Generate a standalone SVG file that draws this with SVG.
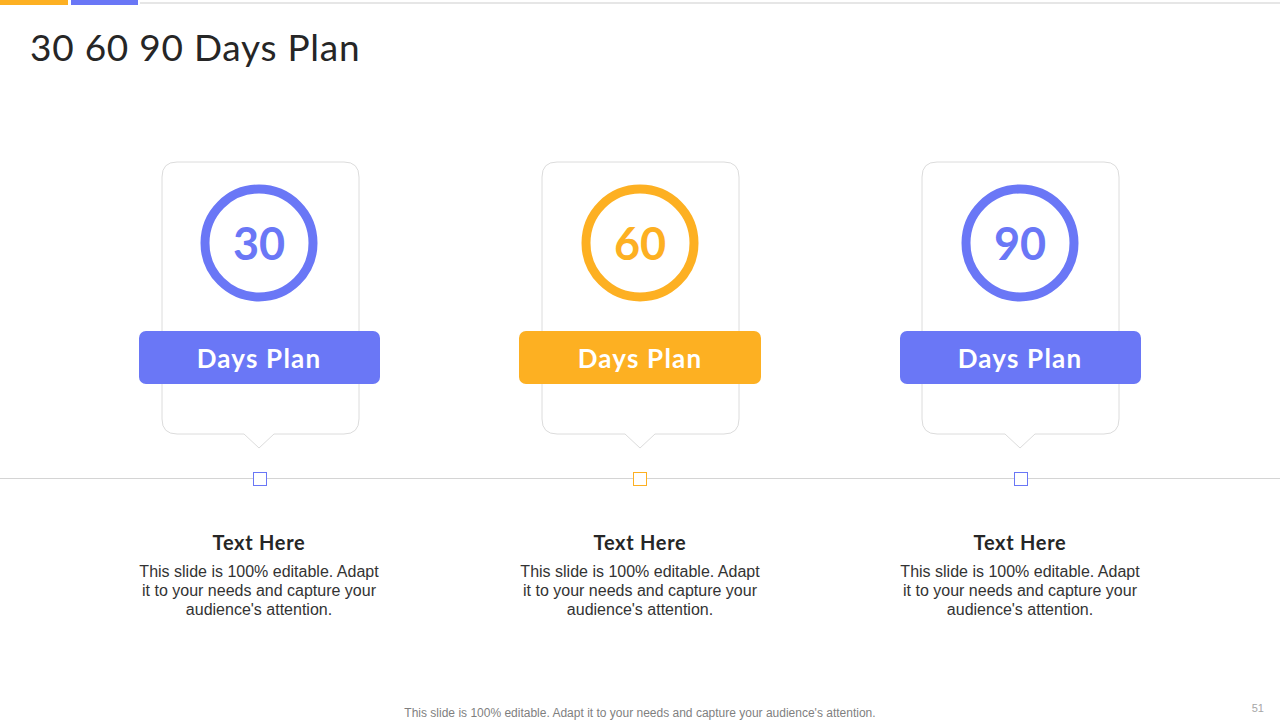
<svg xmlns="http://www.w3.org/2000/svg" width="1280" height="720" viewBox="0 0 1280 720">
<style>
.card{fill:#fff;stroke:#dcdcdc;stroke-width:1}
.ring{fill:none;stroke-width:9}
.num{font-family:"Lato","Liberation Sans",sans-serif;font-weight:bold;font-size:45px;text-anchor:middle}
.band-t{font-family:"Lato","Liberation Sans",sans-serif;font-weight:bold;font-size:26px;letter-spacing:1.2px;fill:#fff;text-anchor:middle}
.h{font-family:"Lato","Liberation Sans",sans-serif;font-weight:bold;font-size:20px;letter-spacing:0.7px;fill:#262626;text-anchor:middle}
.b{font-family:"Liberation Sans",Arial,sans-serif;font-size:16px;fill:#333;text-anchor:middle}
</style>
<rect x="0" y="0" width="1280" height="720" fill="#fff"/>
<rect x="0" y="0" width="68" height="5" fill="#FDB022"/>
<rect x="71" y="0" width="67" height="5" fill="#6A77F6"/>
<line x1="140" y1="3" x2="1280" y2="3" stroke="#e6e6e6" stroke-width="2"/>
<text x="30" y="61" font-family="Lato, 'Liberation Sans', sans-serif" font-size="37" letter-spacing="0.75" fill="#262626">30 60 90 Days Plan</text>
<g id="connectors">
<line x1="0" y1="478.5" x2="1280" y2="478.5" stroke="#d4d4d4" stroke-width="1"/>
</g>
<g id="node30">
<path class="card" d="M177,162 H344 Q359,162 359,177 V419 Q359,434 344,434 H274 L259,448 L244,434 H177 Q162,434 162,419 V177 Q162,162 177,162 Z"/>
<circle cx="259" cy="243" r="54" class="ring" stroke="#6A77F6"/>
<text x="259" y="260" class="num" fill="#6A77F6">30</text>
<rect x="139" y="331" width="241" height="53" rx="7" fill="#6A77F6"/>
<text x="259" y="368" class="band-t">Days Plan</text>
<rect x="253.5" y="472.5" width="13" height="13" fill="#fff" stroke="#6A77F6" stroke-width="1"/>
<text x="259" y="550" class="h">Text Here</text>
<text x="259" y="577" class="b">This slide is 100% editable. Adapt</text>
<text x="259" y="596" class="b">it to your  needs and capture your</text>
<text x="259" y="615" class="b">audience's attention.</text>
</g>
<g id="node60">
<path class="card" d="M557,162 H724 Q739,162 739,177 V419 Q739,434 724,434 H655 L640,448 L625,434 H557 Q542,434 542,419 V177 Q542,162 557,162 Z"/>
<circle cx="640" cy="243" r="54" class="ring" stroke="#FDB022"/>
<text x="640" y="260" class="num" fill="#FDB022">60</text>
<rect x="519" y="331" width="242" height="53" rx="7" fill="#FDB022"/>
<text x="640" y="368" class="band-t">Days Plan</text>
<rect x="633.5" y="472.5" width="13" height="13" fill="#fff" stroke="#FDB022" stroke-width="1"/>
<text x="640" y="550" class="h">Text Here</text>
<text x="640" y="577" class="b">This slide is 100% editable. Adapt</text>
<text x="640" y="596" class="b">it to your  needs and capture your</text>
<text x="640" y="615" class="b">audience's attention.</text>
</g>
<g id="node90">
<path class="card" d="M937,162 H1104 Q1119,162 1119,177 V419 Q1119,434 1104,434 H1035 L1020,448 L1005,434 H937 Q922,434 922,419 V177 Q922,162 937,162 Z"/>
<circle cx="1020" cy="243" r="54" class="ring" stroke="#6A77F6"/>
<text x="1020" y="260" class="num" fill="#6A77F6">90</text>
<rect x="900" y="331" width="241" height="53" rx="7" fill="#6A77F6"/>
<text x="1020" y="368" class="band-t">Days Plan</text>
<rect x="1014.5" y="472.5" width="13" height="13" fill="#fff" stroke="#6A77F6" stroke-width="1"/>
<text x="1020" y="550" class="h">Text Here</text>
<text x="1020" y="577" class="b">This slide is 100% editable. Adapt</text>
<text x="1020" y="596" class="b">it to your  needs and capture your</text>
<text x="1020" y="615" class="b">audience's attention.</text>
</g>
<text x="640" y="717" font-family="'Liberation Sans', Arial, sans-serif" font-size="12" fill="#7f7f7f" text-anchor="middle">This slide is 100% editable. Adapt it to your needs and capture your audience's attention.</text>
<text x="1264" y="712" font-family="'Liberation Sans', Arial, sans-serif" font-size="11" fill="#a6a6a6" text-anchor="end">51</text>
</svg>
